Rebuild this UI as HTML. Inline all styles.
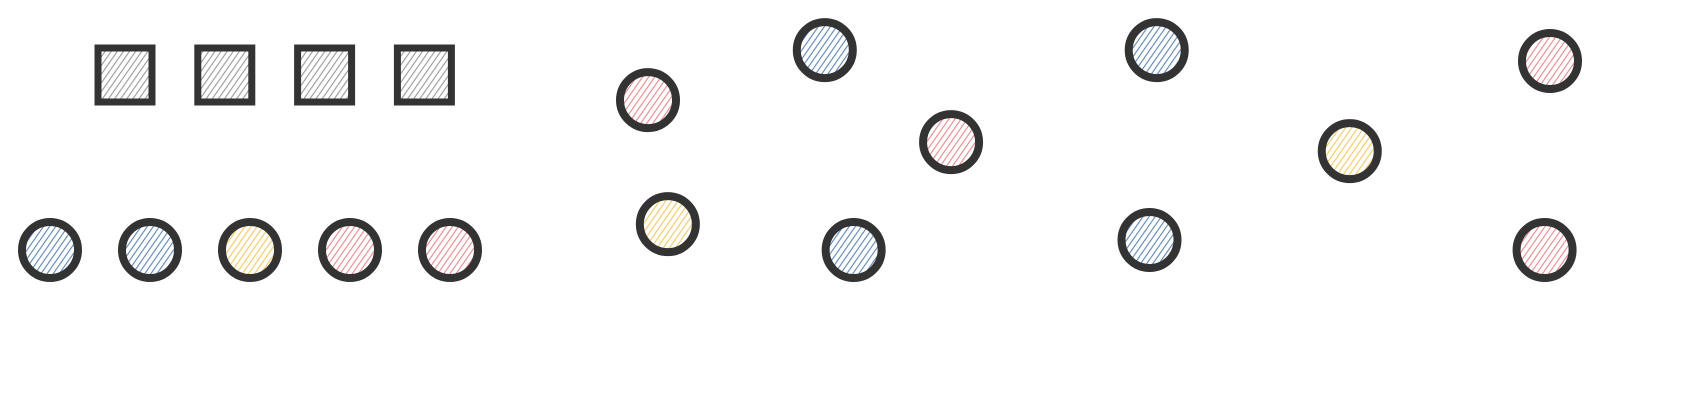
<!DOCTYPE html>
<html><head><meta charset="utf-8"><style>
html,body{margin:0;padding:0;background:#fff;width:1700px;height:400px;overflow:hidden}
svg{display:block}
</style></head><body>
<svg id="chart" width="1700" height="400" xmlns="http://www.w3.org/2000/svg">
<defs>
<pattern id="h-gray" patternUnits="userSpaceOnUse" width="5" height="5" patternTransform="rotate(35)"><rect width="5" height="5" fill="#fff"/><line x1="0" y1="0" x2="0" y2="5" stroke="#9a9a9a" stroke-width="2.2"/></pattern>
<pattern id="h-blue" patternUnits="userSpaceOnUse" width="5" height="5" patternTransform="rotate(35)"><rect width="5" height="5" fill="#fff"/><line x1="0" y1="0" x2="0" y2="5" stroke="#5f86b8" stroke-width="2.2"/></pattern>
<pattern id="h-yellow" patternUnits="userSpaceOnUse" width="5" height="5" patternTransform="rotate(35)"><rect width="5" height="5" fill="#fff"/><line x1="0" y1="0" x2="0" y2="5" stroke="#f5c864" stroke-width="2.2"/></pattern>
<pattern id="h-red" patternUnits="userSpaceOnUse" width="5" height="5" patternTransform="rotate(35)"><rect width="5" height="5" fill="#fff"/><line x1="0" y1="0" x2="0" y2="5" stroke="#e8888e" stroke-width="2.2"/></pattern>
</defs>
<g id="legend"></g>
<g id="plot"></g>
</svg>
<script>
// legend
const legendSquares = [0, 1, 2, 3];
const legendCircleColors = ["blue", "blue", "yellow", "red", "red"];
// scatter data
const pointX = [1, 1.98, 2.68, 3.82, 4.89, 6.0, 1.11, 2.14, 3.78, 5.97];
const pointY = [7.94, 9.49, 6.64, 9.49, 6.36, 9.15, 4.1, 3.3, 3.61, 3.3];
const pointColor = ["red", "blue", "red", "blue", "yellow", "red", "yellow", "blue", "blue", "red"];

const NS = "http://www.w3.org/2000/svg";
function xScale(v){ return 648 + (v - 1) * 180.4; }
function yScale(v){ return 250 - (v - 3.3) * 32.3; }
function legX(i){ return 125 + i * 99.8; }

const leg = document.getElementById('legend');
legendSquares.forEach((s, i) => {
  const r = document.createElementNS(NS, 'rect');
  r.setAttribute('x', legX(s) - 27); r.setAttribute('y', 48);
  r.setAttribute('width', 54); r.setAttribute('height', 54);
  r.setAttribute('fill', 'url(#h-gray)'); r.setAttribute('stroke', '#333'); r.setAttribute('stroke-width', 7);
  
  
  leg.appendChild(r);
});
legendCircleColors.forEach((c, i) => {
  const e = document.createElementNS(NS, 'circle');
  e.setAttribute('cx', 50 + i * 100); e.setAttribute('cy', 250); e.setAttribute('r', 28);
  e.setAttribute('fill', 'url(#h-' + c + ')'); e.setAttribute('stroke', '#333'); e.setAttribute('stroke-width', 8);
  
  
  leg.appendChild(e);
});

const plot = document.getElementById('plot');
pointX.forEach((x, i) => {
  const e = document.createElementNS(NS, 'circle');
  e.setAttribute('cx', xScale(x)); e.setAttribute('cy', yScale(pointY[i])); e.setAttribute('r', 28);
  e.setAttribute('fill', 'url(#h-' + pointColor[i] + ')'); e.setAttribute('stroke', '#333'); e.setAttribute('stroke-width', 8);
  
  
  plot.appendChild(e);
});
</script>
</body></html>
